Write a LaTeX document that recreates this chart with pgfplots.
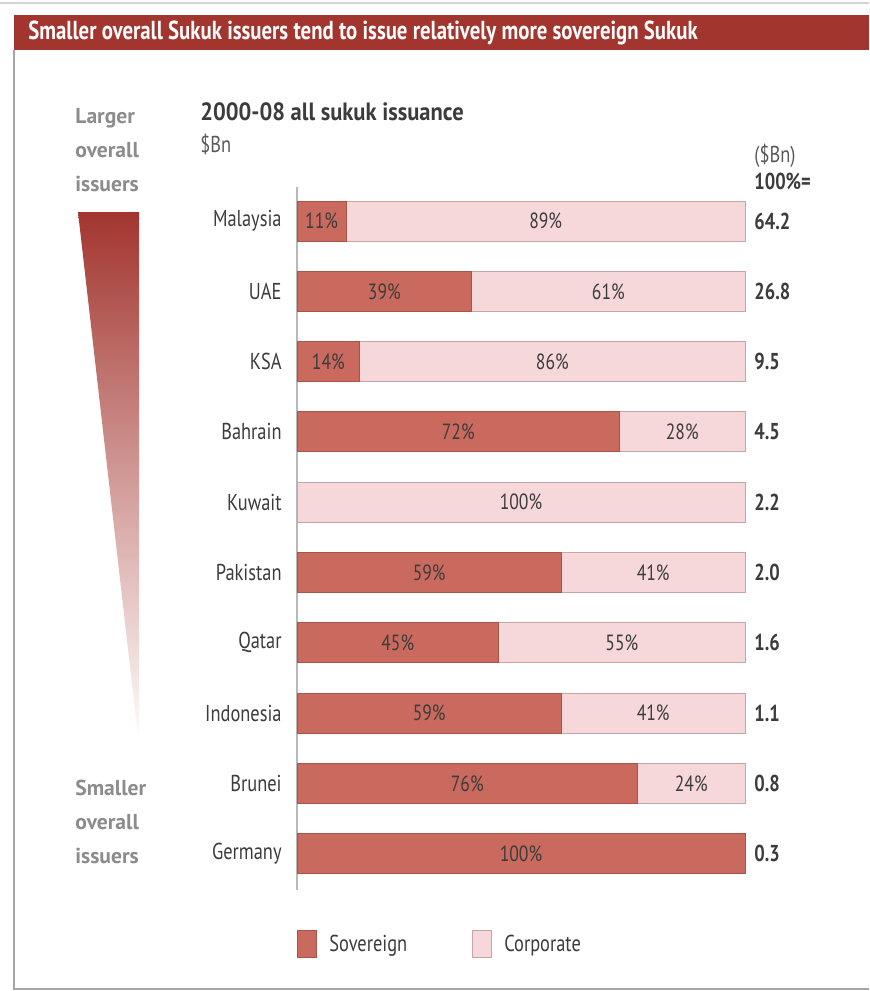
\documentclass[border=0pt]{standalone}
\usepackage{fontspec}
\setmainfont{PT Sans}[FakeStretch=0.8]
\newfontfamily\widefont{PT Sans}
\newfontfamily\midfont{PT Sans}[FakeStretch=0.9]
\usepackage{pgfplots}
\pgfplotsset{compat=1.18}
\usepackage{pgfplotstable}
\definecolor{banner}{HTML}{A3352F}
\definecolor{sov}{HTML}{CA6A5E}
\definecolor{sovd}{HTML}{A85448}
\definecolor{cor}{HTML}{F6D8DA}
\definecolor{cord}{HTML}{C4A6A8}
\definecolor{txt}{HTML}{3C3C3C}
\definecolor{side}{HTML}{8C8C8C}

\pgfplotstableread{
i s c t
0 11 89 64.2
1 39 61 26.8
2 14 86 9.5
3 72 28 4.5
4 0 100 2.2
5 59 41 2.0
6 45 55 1.6
7 59 41 1.1
8 76 24 0.8
9 100 0 0.3
}\data

\pgfplotsset{
  geom/.style={
    at={(148.5pt,-445pt)}, anchor=south west,
    scale only axis, width=224pt, height=351.5pt,
    xmin=0, xmax=100, ymin=-0.484, ymax=9.516, y dir=reverse,
    clip=false, /pgf/number format/assume math mode=true,
  }
}

\begin{document}
\begin{tikzpicture}[x=0.5pt,y=-0.5pt]
\path[use as bounding box] (0,0) rectangle (869,991);
\fill[white] (0,0) rectangle (869,991);
\draw[gray!35, line width=0.6pt] (0,3)--(869,3);
\fill[banner] (14,15) rectangle (869,50);
\node[anchor=base west, text=white, inner sep=0pt, font=\bfseries\fontsize{13}{15}\selectfont] at (28,39.5) {Smaller overall Sukuk issuers tend to issue relatively more sovereign Sukuk};
\draw[gray!70, line width=0.8pt] (14,50)--(14,989)--(869,989);

\shade[top color=banner, bottom color=white] (78,212)--(139,212)--(139,745)--cycle;
\node[anchor=north west, align=left, inner sep=0pt, text=side, font=\widefont\bfseries\fontsize{10.8}{17}\selectfont] at (75,108) {Larger\\overall\\issuers};
\node[anchor=north west, align=left, inner sep=0pt, text=side, font=\widefont\bfseries\fontsize{10.8}{17}\selectfont] at (75,780) {Smaller\\overall\\issuers};

\node[anchor=base west, inner sep=0pt, text=txt, font=\midfont\bfseries\fontsize{12.5}{14}\selectfont] at (200,120) {2000-08 all sukuk issuance};
\node[anchor=base west, inner sep=0pt, text=txt!85, font=\fontsize{11.5}{14}\selectfont] at (200,152) {\$Bn};
\node[anchor=base west, inner sep=0pt, text=txt!85, font=\fontsize{11.5}{14}\selectfont] at (754,162) {(\$Bn)};
\node[anchor=base west, inner sep=0pt, text=txt, font=\bfseries\fontsize{11.5}{14}\selectfont] at (754,189) {100\%=};

\begin{axis}[geom,
  xbar stacked, bar width=20pt,
  axis x line=none, axis y line=left,
  y axis line style={-, draw=gray!55, line width=0.6pt},
  ytick={0,...,9}, major tick length=0pt,
  yticklabels={Malaysia,UAE,KSA,Bahrain,Kuwait,Pakistan,Qatar,Indonesia,Brunei,Germany},
  yticklabel style={font=\fontsize{11.5}{14}\selectfont, text=txt, inner sep=0pt, xshift=-7.5pt},
  legend style={at={(0,-0.057)}, anchor=north west, draw=none, fill=none, inner sep=0pt,
    legend columns=2, font=\fontsize{11.5}{14}\selectfont, text=txt,
    /tikz/every odd column/.append style={column sep=4pt},
    /tikz/every even column/.append style={column sep=30.5pt}},
  legend image code/.code={\draw[#1] (0pt,-6.75pt) rectangle (9.5pt,6.75pt);},
]
\addplot[fill=sov, draw=sovd, line width=0.5pt] table[x=s, y=i]{\data};
\addlegendentry{Sovereign}
\addplot[fill=cor, draw=cord, line width=0.5pt] table[x=c, y=i]{\data};
\addlegendentry{Corporate}
\end{axis}

\begin{axis}[geom, hide axis]
\addplot[draw=none, mark=none, point meta=\thisrow{s},
  restrict expr to domain={\thisrow{s}}{1:100},
  nodes near coords={\pgfmathprintnumber{\pgfplotspointmeta}\%},
  every node near coord/.append style={anchor=center, text=txt, font=\fontsize{11}{13}\selectfont}]
  table[x expr=\thisrow{s}/2, y=i]{\data};
\addplot[draw=none, mark=none, point meta=\thisrow{c},
  restrict expr to domain={\thisrow{c}}{1:100},
  nodes near coords={\pgfmathprintnumber{\pgfplotspointmeta}\%},
  every node near coord/.append style={anchor=center, text=txt, font=\fontsize{11}{13}\selectfont}]
  table[x expr=\thisrow{s}+\thisrow{c}/2, y=i]{\data};
\addplot[draw=none, mark=none, point meta=\thisrow{t},
  nodes near coords={\pgfmathprintnumber[fixed,fixed zerofill,precision=1]{\pgfplotspointmeta}},
  every node near coord/.append style={anchor=west, inner sep=0pt, xshift=4.5pt, text=txt, font=\bfseries\fontsize{11.5}{13}\selectfont}]
  table[x expr=100, y=i]{\data};
\end{axis}
\end{tikzpicture}
\end{document}
